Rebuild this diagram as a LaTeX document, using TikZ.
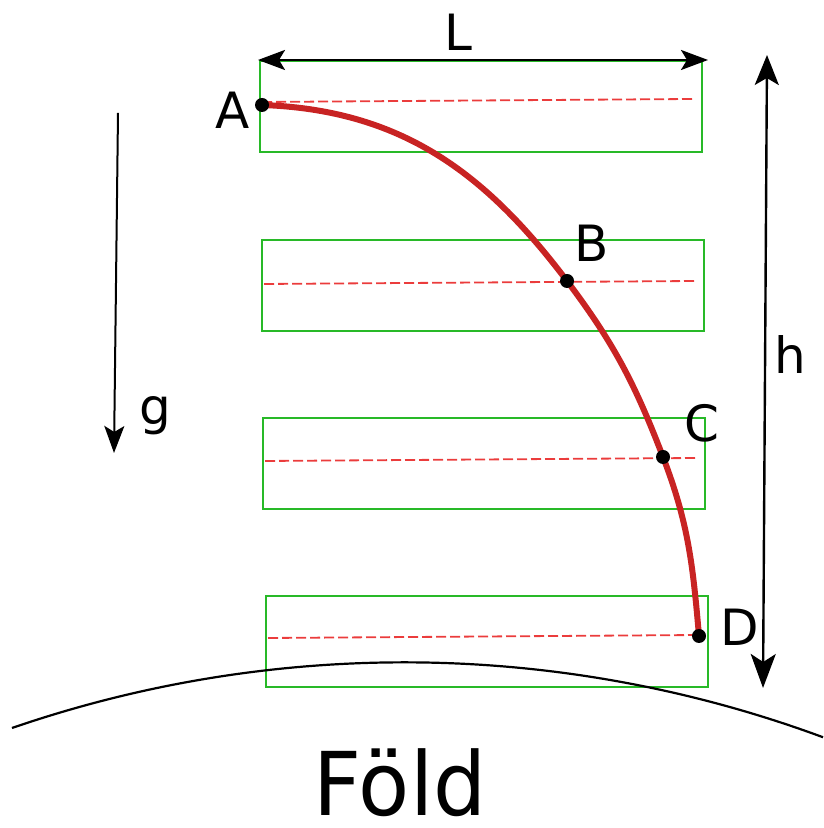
\documentclass[tikz,border=0pt]{standalone}
\usepackage{fontspec}
\setmainfont{DejaVu Sans}
\usetikzlibrary{arrows.meta}
\definecolor{cgreen}{RGB}{40,185,40}
\definecolor{cred}{RGB}{200,35,35}
\definecolor{clred}{RGB}{235,60,60}
\tikzset{fallsec/.style={x=0.5pt,y=0.5pt,font=\fontsize{25}{30}\selectfont}}
\tikzset{grbox/.style={cgreen,line width=1.2pt},
         midline/.style={clred,line width=0.9pt,dash pattern=on 5pt off 2pt},
         traj/.style={cred,line width=3pt},
         dimarr/.style={line width=1.3pt,{Stealth[length=13.5pt,width=10pt,inset=3pt]}-{Stealth[length=13.5pt,width=10pt,inset=3pt]}},
         bigarr/.style={line width=1.2pt,{Stealth[length=15pt,width=12pt,inset=3.5pt]}-{Stealth[length=17pt,width=12.5pt,inset=4pt]}},
         garr/.style={line width=1pt,-{Stealth[length=13.5pt,width=10pt,inset=3pt]}}}

\begin{document}
\begin{tikzpicture}[fallsec]
    \useasboundingbox (0,0) rectangle (823,828);
    % frames
    \foreach \lx/\by in {260/676,262/497,263/319,266/141}
        \draw[grbox] (\lx,\by) rectangle ++(442,91);
    \foreach \lx/\ly in {262/726,264/544,265/367,268/190}
        \draw[midline] (\lx,\ly) -- ++(431,3);
    % ground
    \draw[line width=1.1pt] (12,100) arc[start angle=109,end angle=69.7,radius=1206];
    \node[inner sep=0pt] (fold) at (400,45) {\fontsize{44}{50}\selectfont\scalebox{0.95}[1]{Föld}};
    % trajectory
    \coordinate (A) at (262,723);
    \coordinate (B) at (567,547);
    \coordinate (C) at (663,371);
    \coordinate (D) at (699,192);
    \draw[traj] (A) to[out=-2,in=127] (B) to[out=-53,in=111] (C) to[out=-69,in=95] (D);
    \foreach \p in {A,B,C,D} \fill (\p) circle (7);
    \node (la) at (233,718) {A};
    \node (lb) at (592,585) {B};
    \node (lc) at (702,405) {C};
    \node (ld) at (740,201) {D};
    % dimensions
    \coordinate (Lw) at (258,768);
    \coordinate (Le) at (708,768);
    \draw[dimarr] (Lw) -- (Le);
    \node (L) at (458,796) {L};
    \coordinate (ht) at (767,773);
    \coordinate (hb) at (763,140);
    \draw[bigarr] (ht) -- (hb);
    \node (h) at (790,473) {h};
    \coordinate (gt) at (118,715);
    \coordinate (gb) at (114,375);
    \draw[garr] (gt) -- (gb);
    \node (g) at (155,412) {g};
\end{tikzpicture}
\end{document}
